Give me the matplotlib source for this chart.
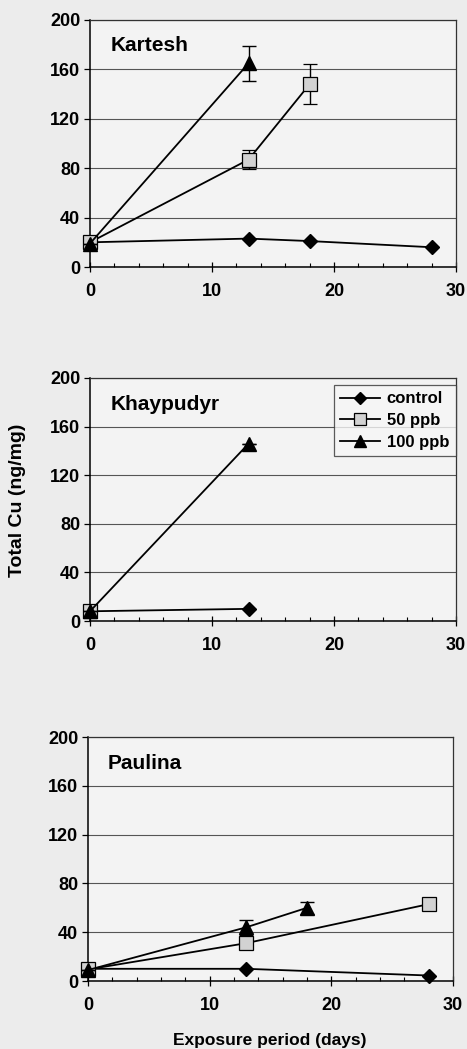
import matplotlib
matplotlib.use("Agg")
import matplotlib.pyplot as plt
from matplotlib.ticker import MultipleLocator
from matplotlib.lines import Line2D

plt.rcParams['font.family'] = ['Liberation Sans', 'DejaVu Sans']
plt.rcParams['font.weight'] = 'bold'

sites = ["Kartesh", "Khaypudyr", "Paulina"]

# Kartesh
k_ctrl_x = [0, 13, 18, 28]
k_ctrl_y = [20, 23, 21, 16]
k_50_x = [0, 13, 18]
k_50_y = [20, 87, 148]
k_50_err = [0, 8, 16]
k_100_x = [0, 13]
k_100_y = [19, 165]
k_100_err = [0, 14]

# Khaypudyr
h_ctrl_x = [0, 13]
h_ctrl_y = [8, 10]
h_50_x = [0]
h_50_y = [8]
h_50_err = [0]
h_100_x = [0, 13]
h_100_y = [8, 146]
h_100_err = [0, 0]

# Paulina
p_ctrl_x = [0, 13, 28]
p_ctrl_y = [10, 10, 4.5]
p_50_x = [0, 13, 28]
p_50_y = [9.5, 31, 63]
p_50_err = [0, 0, 0]
p_100_x = [0, 13, 18]
p_100_y = [9, 44, 60]
p_100_err = [0, 6, 5]

legend_labels = ["control", "50 ppb", "100 ppb"]

data = [
    (k_ctrl_x, k_ctrl_y, k_50_x, k_50_y, k_50_err, k_100_x, k_100_y, k_100_err),
    (h_ctrl_x, h_ctrl_y, h_50_x, h_50_y, h_50_err, h_100_x, h_100_y, h_100_err),
    (p_ctrl_x, p_ctrl_y, p_50_x, p_50_y, p_50_err, p_100_x, p_100_y, p_100_err),
]

W, H = 467, 1049
fig = plt.figure(figsize=(W / 100, H / 100), dpi=100, facecolor='#ececec')

boxes = [(90, 20, 456, 267), (90, 378, 456, 621), (88, 737, 453, 981)]
title_y = [0.895, 0.889, 0.893]

ctrl_style = dict(color='black', lw=1.3, marker='D', ms=7, mfc='black', mec='black')
p50_style = dict(color='black', lw=1.3, marker='s', ms=10, mfc='#d2d2d2', mec='black', mew=0.9)
p100_style = dict(color='black', lw=1.3, marker='^', ms=10.5, mfc='black', mec='black')

axes = []
for i, (l, t, r, b) in enumerate(boxes):
    ax = fig.add_axes([l / W, 1 - b / H, (r - l) / W, (b - t) / H])
    ax.set_facecolor('#f3f3f3')
    cx, cy, fx, fy, fe, tx, ty, te = data[i]
    ax.set_axisbelow(True)
    ax.grid(axis='y', color='#555555', lw=0.8)
    ax.plot(cx, cy, zorder=3, clip_on=False, **ctrl_style)
    ax.errorbar(fx, fy, yerr=fe, capsize=5, elinewidth=1.0, capthick=1.0,
                zorder=4, clip_on=False, **p50_style)
    ax.errorbar(tx, ty, yerr=te, capsize=5, elinewidth=1.0, capthick=1.0,
                zorder=5, clip_on=False, **p100_style)
    ax.set_xlim(0, 30)
    ax.set_ylim(0, 200)
    ax.set_yticks([0, 40, 80, 120, 160, 200])
    ax.set_xticks([0, 10, 20, 30])
    ax.xaxis.set_minor_locator(MultipleLocator(2))
    ax.tick_params(axis='y', direction='out', length=4, width=0.9,
                   labelsize=13, pad=3)
    ax.tick_params(axis='x', which='major', direction='inout', length=7,
                   width=0.9, labelsize=13, pad=8)
    ax.tick_params(axis='x', which='minor', direction='in', length=3, width=0.8)
    for lab in ax.get_xticklabels() + ax.get_yticklabels():
        lab.set_fontweight('bold')
    for s in ax.spines.values():
        s.set_color('#333333')
        s.set_linewidth(0.9)
    ax.spines['left'].set_color('black')
    ax.spines['bottom'].set_color('black')
    ax.spines['left'].set_linewidth(1.1)
    ax.spines['bottom'].set_linewidth(1.1)
    ax.text(0.055, title_y[i], sites[i], transform=ax.transAxes,
            fontsize=15, fontweight='bold', ha='left', va='center')
    axes.append(ax)

handles = [Line2D([], [], **ctrl_style), Line2D([], [], **p50_style),
           Line2D([], [], **p100_style)]
for h in handles:
    h.set_markersize(h.get_markersize() * 0.85)
leg = axes[1].legend(handles, legend_labels, loc='upper right',
                     bbox_to_anchor=(1.0, 0.972), borderaxespad=0,
                     fontsize=12, frameon=True, fancybox=False,
                     handlelength=2.4, handletextpad=0.4, labelspacing=0.4,
                     borderpad=0.4)
leg.get_frame().set_edgecolor('#333333')
leg.get_frame().set_facecolor('#f6f6f6')
leg.get_frame().set_linewidth(0.9)
for txt in leg.get_texts():
    txt.set_fontweight('bold')

fig.text(18 / W, 1 - 500 / H, 'Total Cu (ng/mg)', rotation=90,
         fontsize=14, fontweight='bold', ha='center', va='center')
fig.text(270 / W, 1 - 1040 / H, 'Exposure period (days)',
         fontsize=12.5, fontweight='bold', ha='center', va='center')

fig.savefig('out.png', dpi=100, facecolor=fig.get_facecolor())
